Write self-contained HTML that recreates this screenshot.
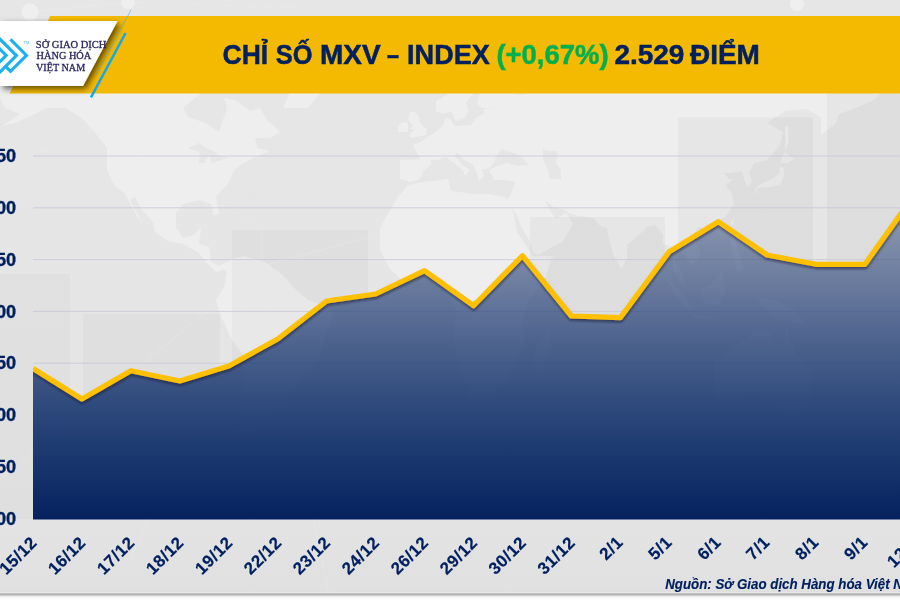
<!DOCTYPE html>
<html lang="vi">
<head>
<meta charset="utf-8">
<title>Chỉ số MXV – Index</title>
<style>
html,body{margin:0;padding:0;background:#e9e9e9;}
body{width:900px;height:600px;overflow:hidden;position:relative;font-family:"Liberation Sans",sans-serif;}
svg{position:absolute;left:0;top:0;display:block;}
.title{font-family:"Liberation Sans",sans-serif;font-weight:bold;font-size:28px;fill:#002060;stroke:#002060;stroke-width:0.5px;}
.green{fill:#00b050;stroke:#00b050;}
.yl{font-family:"Liberation Sans",sans-serif;font-weight:bold;font-size:18.2px;fill:#002060;stroke:#002060;stroke-width:0.3px;}
.xl{font-family:"Liberation Sans",sans-serif;font-weight:bold;font-size:17px;fill:#002060;letter-spacing:0.5px;stroke:#002060;stroke-width:0.18px;}
.logo{font-family:"Liberation Serif",serif;font-size:9.8px;fill:#2a2560;stroke:#2a2560;stroke-width:0.28px;}
.src{font-family:"Liberation Sans",sans-serif;font-weight:bold;font-style:italic;font-size:14.6px;fill:#002060;stroke:#002060;stroke-width:0.15px;}
</style>
</head>
<body>
<svg width="900" height="600" viewBox="0 0 900 600">
<defs>
<linearGradient id="ga" x1="0" y1="190" x2="0" y2="519" gradientUnits="userSpaceOnUse">
<stop offset="0" stop-color="rgb(56,79,125)" stop-opacity="0.45"/>
<stop offset="0.152" stop-color="rgb(43,68,119)" stop-opacity="0.55"/>
<stop offset="0.395" stop-color="rgb(40,67,120)" stop-opacity="0.75"/>
<stop offset="0.638" stop-color="rgb(33,62,116)" stop-opacity="0.92"/>
<stop offset="0.82" stop-color="rgb(25,55,110)" stop-opacity="1"/>
<stop offset="1" stop-color="rgb(5,33,95)" stop-opacity="1"/>
</linearGradient>
<linearGradient id="bgg" x1="0" y1="0" x2="0" y2="600" gradientUnits="userSpaceOnUse">
<stop offset="0" stop-color="#e6e6e6"/>
<stop offset="0.8" stop-color="#e5e5e5"/>
<stop offset="1" stop-color="#e0e0e0"/>
</linearGradient>
<linearGradient id="bot" x1="0" y1="591" x2="0" y2="600" gradientUnits="userSpaceOnUse">
<stop offset="0" stop-color="#dfdfdf"/>
<stop offset="0.06" stop-color="#dfdfdf"/>
<stop offset="0.15" stop-color="#ececec"/>
<stop offset="0.26" stop-color="#c8c8c8"/>
<stop offset="0.37" stop-color="#adadad"/>
<stop offset="0.48" stop-color="#c8c8c8"/>
<stop offset="0.61" stop-color="#ececec"/>
<stop offset="0.78" stop-color="#fcfcfc"/>
<stop offset="1" stop-color="#fefefe"/>
</linearGradient>
<clipPath id="above"><path d="M0,0 L920,0 L920,190 L913.9,195.5 L865.0,264.3 L816.0,264.3 L767.1,255.0 L718.2,221.7 L669.2,251.7 L620.3,317.7 L571.3,316.0 L522.4,255.7 L473.5,305.7 L424.5,270.7 L375.6,294.0 L326.6,301.0 L277.7,339.0 L228.8,366.0 L179.8,381.0 L130.9,370.7 L81.9,399.0 L33.0,368.5 L33,600 L0,600 Z"/></clipPath>
<clipPath id="plot"><rect x="33" y="100" width="880" height="430"/></clipPath>
<filter id="mb" x="0" y="0" width="100%" height="100%"><feGaussianBlur stdDeviation="0.6"/></filter>
<filter id="sh" x="-10%" y="-10%" width="130%" height="140%">
<feDropShadow dx="3" dy="2.8" stdDeviation="3.2" flood-color="#000" flood-opacity="0.62"/>
</filter>
<filter id="lsh" x="-5%" y="-5%" width="110%" height="115%">
<feDropShadow dx="0.3" dy="2.2" stdDeviation="1.2" flood-color="#0a1430" flood-opacity="0.55"/>
</filter>
</defs>
<rect x="0" y="0" width="900" height="600" fill="url(#bgg)"/>
<g filter="url(#mb)">
<g fill="#eeeeee"><polygon points="-5,89 10,76 40,73 66,76 97,76 130,80 155,80 181,70 206,76 214,86 199,95 183,108 188,117 206,123 219,132 222,123 227,108 224,98 237,101 250,111 260,108 267,120 280,132 270,138 255,138 257,148 270,151 255,157 244,163 234,170 229,182 216,197 219,213 214,216 211,204 199,200 183,204 176,213 176,228 183,238 194,235 201,228 199,244 209,247 211,262 219,266 224,269 216,272 206,262 199,253 183,244 168,241 155,232 153,222 142,210 135,197 130,200 142,222 137,216 125,194 114,185 107,170 107,148 97,135 84,120 66,108 46,108 35,114 15,123 2,126 20,114 5,108 -0,98"/><polygon points="283,108 308,108 321,92 359,80 372,61 359,39 308,36 257,46 237,52 270,61 283,76 290,92"/><polygon points="219,266 232,259 244,256 265,262 283,275 296,290 308,300 326,306 334,315 326,334 321,356 313,365 301,374 296,386 285,399 275,411 262,421 255,436 250,455 239,458 234,442 237,418 242,386 244,356 232,340 219,312 216,300 224,287 227,272"/><polygon points="408,185 423,182 448,179 451,191 474,194 487,194 505,197 512,207 517,232 533,256 553,256 545,278 528,303 522,324 525,343 512,368 505,383 489,399 471,402 466,386 456,356 454,331 456,309 446,290 446,281 433,275 413,278 403,281 390,269 380,250 380,228 390,210 398,197"/><polygon points="400,179 400,160 420,159 413,145 420,142 431,135 443,126 446,117 451,120 454,126 471,125 477,117 484,114 484,109 497,108 482,108 477,104 479,95 487,90 479,89 469,98 466,104 469,111 464,118 456,121 451,111 443,114 436,111 436,101 451,92 461,83 479,75 494,73 505,78 528,86 515,95 525,94 535,83 563,81 596,80 609,70 645,64 691,55 711,64 754,73 806,73 831,78 859,76 882,81 908,89 882,92 874,100 856,108 839,114 836,123 821,135 821,117 806,109 785,111 767,123 783,132 780,145 767,160 754,163 749,173 752,182 747,187 744,179 742,171 732,173 724,173 729,179 734,179 726,185 732,194 734,204 726,216 714,224 704,228 698,227 693,235 701,253 696,262 691,266 686,256 678,252 675,262 681,273 686,289 679,281 673,269 673,247 663,244 663,235 655,225 647,227 642,232 627,245 627,259 621,269 614,256 609,239 607,228 599,225 594,218 579,216 568,213 566,210 553,207 545,200 550,211 556,219 566,213 573,224 563,241 556,245 538,255 533,253 530,241 522,228 517,216 512,207 506,200 510,196 512,191 515,182 505,180 494,180 491,174 489,170 497,166 507,163 517,166 528,165 522,157 517,154 507,151 502,149 497,154 494,163 489,168 482,170 484,176 479,180 477,173 473,165 464,160 457,152 455,157 464,166 470,170 465,176 463,170 454,163 446,157 438,160 431,160 431,165 423,171 422,176 418,180 410,182"/><polygon points="410,138 426,135 427,129 420,123 418,115 415,112 410,112 408,120 413,125 410,129 415,129 410,134"/><polygon points="398,132 408,132 408,123 403,122 398,126"/><polygon points="754,196 758,188 770,187 780,185 784,176 784,168 780,166 779,174 772,179 762,183 756,188"/><polygon points="780,163 788,163 794,159 785,152 781,160"/><polygon points="785,151 789,142 788,126 785,126 785,138"/><polygon points="714,362 714,399 724,402 739,396 754,391 767,400 775,402 780,411 795,414 806,408 813,386 813,371 795,352 786,328 783,346 770,340 772,331 757,331 747,337 734,349"/><polygon points="665,276 673,283 688,300 693,312 683,306 673,290"/><polygon points="701,290 711,284 721,272 726,290 719,306 704,303"/><polygon points="691,314 714,317 714,320 693,317"/><polygon points="757,297 775,300 793,309 806,324 788,321 775,318 762,306"/><polygon points="729,238 734,238 739,253 744,269 737,272 732,253"/><polygon points="548,331 550,343 543,371 535,371 535,349"/><polygon points="730,224 734,216 733,225"/><polygon points="-67,89 -36,81 -10,89 -16,95 -36,101"/></g>
<g fill="#e6e6e6"><polygon points="543,149 548,151 558,151 556,163 561,170 561,179 550,179 548,170 543,160"/><polygon points="188,148 199,143 206,148 214,151 219,156 228,157 222,160 211,163 210,154 204,163 199,163 200,152"/></g>
</g>
<g fill="#000" fill-opacity="0.03" clip-path="url(#above)">
<rect x="-67" y="274" width="137" height="245" fill-opacity="0.02"/>
<rect x="83" y="314" width="137" height="205" fill-opacity="0.022"/>
<rect x="232" y="230" width="136" height="289" fill-opacity="0.025"/>
<rect x="380" y="300" width="137" height="219"/>
<rect x="530" y="217" width="135" height="302"/>
<rect x="678" y="117.5" width="135" height="401"/>
<rect x="827" y="90" width="135" height="429"/>
</g>
<g fill="#efefef"><circle cx="30" cy="12" r="8.5"/><circle cx="128" cy="2" r="7"/><circle cx="797" cy="4" r="7"/></g>
<g stroke="#eeeeee" stroke-opacity="0.45" stroke-width="0.7" fill="none"><path d="M30,12 L128,2 M30,12 L0,4 M128,2 L300,8 M30,12 L90,130 L0,170 M90,130 L262,228 L262,266 L395,230 M262,266 L130,560 M262,266 L330,600 M262,266 L0,480 M395,230 L400,190"/></g>
<!-- banner -->
<polygon points="50.3,15.9 900,15.9 900,93.5 9.5,93.5" fill="#f4ba02"/>
<polygon points="0,21 117.5,21 83,86 0,86" fill="#ffffff" filter="url(#sh)"/>
<line x1="125.6" y1="33" x2="91" y2="97.3" stroke="#0da9f5" stroke-width="2.5"/>
<line x1="131" y1="10" x2="96" y2="75" stroke="#3fa9dc" stroke-opacity="0.65" stroke-width="0.9"/>
<!-- logo mark -->
<g fill="none" stroke="#1cb0ee" stroke-width="3.1" stroke-linejoin="miter" stroke-miterlimit="10">
<polyline points="10.5,39.4 26.5,55.4 10.5,71.4 5.5,66.4"/>
<polyline points="-2,37.2 16.4,55.6 -2,74"/>
<polyline points="-2,47.2 6.2,55.4 -2,63.6"/>
</g>
<text x="23.6" y="43.6" style="font-family:'Liberation Sans',sans-serif;font-weight:bold;font-size:3.9px;fill:#7ccbf0;">TM</text>
<text class="logo" x="35.8" y="47.6" textLength="70.6" lengthAdjust="spacingAndGlyphs">SỞ GIAO DỊCH</text>
<text class="logo" x="36.6" y="59.1" textLength="54.6" lengthAdjust="spacingAndGlyphs">HÀNG HÓA</text>
<text class="logo" x="36" y="70.9" textLength="49.2" lengthAdjust="spacingAndGlyphs">VIỆT NAM</text>
<!-- title -->
<text class="title" x="222.6" y="63.6" textLength="45.6" lengthAdjust="spacingAndGlyphs">CHỈ</text>
<text class="title" x="275.8" y="63.6" textLength="36.8" lengthAdjust="spacingAndGlyphs">SỐ</text>
<text class="title" x="320" y="63.6" textLength="60.8" lengthAdjust="spacingAndGlyphs">MXV</text>
<text class="title" x="387" y="63.6" textLength="12" lengthAdjust="spacingAndGlyphs">–</text>
<text class="title" x="407.1" y="63.6" textLength="82.7" lengthAdjust="spacingAndGlyphs">INDEX</text>
<text class="title green" x="496.4" y="63.6" textLength="112.2" lengthAdjust="spacingAndGlyphs">(+0,67%)</text>
<text class="title" x="614.4" y="63.6" textLength="70" lengthAdjust="spacingAndGlyphs">2.529</text>
<text class="title" x="690" y="63.6" textLength="69.9" lengthAdjust="spacingAndGlyphs">ĐIỂM</text>
<!-- grid -->
<line x1="33" x2="900" y1="156.0" y2="156.0" stroke="#c4c8d8" stroke-width="0.8"/>
<line x1="33" x2="900" y1="207.8" y2="207.8" stroke="#c4c8d8" stroke-width="0.8"/>
<line x1="33" x2="900" y1="259.6" y2="259.6" stroke="#c4c8d8" stroke-width="0.8"/>
<line x1="33" x2="900" y1="311.4" y2="311.4" stroke="#c4c8d8" stroke-width="0.8"/>
<line x1="33" x2="900" y1="363.2" y2="363.2" stroke="#c4c8d8" stroke-width="0.8"/>
<line x1="33" x2="900" y1="415.0" y2="415.0" stroke="#c4c8d8" stroke-width="0.8"/>
<line x1="33" x2="900" y1="466.8" y2="466.8" stroke="#c4c8d8" stroke-width="0.8"/>
<line x1="33" x2="900" y1="518.6" y2="518.6" stroke="#c4c8d8" stroke-width="0.8"/>
<text x="16.1" y="162.1" text-anchor="end" class="yl">2.550</text>
<text x="16.1" y="213.9" text-anchor="end" class="yl">2.500</text>
<text x="16.1" y="265.7" text-anchor="end" class="yl">2.450</text>
<text x="16.1" y="317.5" text-anchor="end" class="yl">2.400</text>
<text x="16.1" y="369.3" text-anchor="end" class="yl">2.350</text>
<text x="16.1" y="421.1" text-anchor="end" class="yl">2.300</text>
<text x="16.1" y="472.9" text-anchor="end" class="yl">2.250</text>
<text x="16.1" y="524.7" text-anchor="end" class="yl">2.200</text>
<!-- area -->
<path d="M33.0,368.5 L81.9,399.0 L130.9,370.7 L179.8,381.0 L228.8,366.0 L277.7,339.0 L326.6,301.0 L375.6,294.0 L424.5,270.7 L473.5,305.7 L522.4,255.7 L571.3,316.0 L620.3,317.7 L669.2,251.7 L718.2,221.7 L767.1,255.0 L816.0,264.3 L865.0,264.3 L913.9,195.5 L913.9,519.5 L33,519.5 Z" fill="url(#ga)"/>
<g clip-path="url(#plot)"><path d="M33.0,368.5 L81.9,399.0 L130.9,370.7 L179.8,381.0 L228.8,366.0 L277.7,339.0 L326.6,301.0 L375.6,294.0 L424.5,270.7 L473.5,305.7 L522.4,255.7 L571.3,316.0 L620.3,317.7 L669.2,251.7 L718.2,221.7 L767.1,255.0 L816.0,264.3 L865.0,264.3 L913.9,195.5" fill="none" stroke="#ffc000" stroke-width="5.2" stroke-linejoin="round" filter="url(#lsh)"/></g>
<text transform="translate(38.0,543.7) rotate(-45)" text-anchor="end" class="xl">15/12</text>
<text transform="translate(86.9,543.7) rotate(-45)" text-anchor="end" class="xl">16/12</text>
<text transform="translate(135.9,543.7) rotate(-45)" text-anchor="end" class="xl">17/12</text>
<text transform="translate(184.8,543.7) rotate(-45)" text-anchor="end" class="xl">18/12</text>
<text transform="translate(233.8,543.7) rotate(-45)" text-anchor="end" class="xl">19/12</text>
<text transform="translate(282.7,543.7) rotate(-45)" text-anchor="end" class="xl">22/12</text>
<text transform="translate(331.6,543.7) rotate(-45)" text-anchor="end" class="xl">23/12</text>
<text transform="translate(380.6,543.7) rotate(-45)" text-anchor="end" class="xl">24/12</text>
<text transform="translate(429.5,543.7) rotate(-45)" text-anchor="end" class="xl">26/12</text>
<text transform="translate(478.5,543.7) rotate(-45)" text-anchor="end" class="xl">29/12</text>
<text transform="translate(527.4,543.7) rotate(-45)" text-anchor="end" class="xl">30/12</text>
<text transform="translate(576.3,543.7) rotate(-45)" text-anchor="end" class="xl">31/12</text>
<text transform="translate(624.1,543.2) rotate(-45)" text-anchor="end" class="xl">2/1</text>
<text transform="translate(673.0,543.2) rotate(-45)" text-anchor="end" class="xl">5/1</text>
<text transform="translate(722.0,543.2) rotate(-45)" text-anchor="end" class="xl">6/1</text>
<text transform="translate(770.9,543.2) rotate(-45)" text-anchor="end" class="xl">7/1</text>
<text transform="translate(819.8,543.2) rotate(-45)" text-anchor="end" class="xl">8/1</text>
<text transform="translate(868.8,543.2) rotate(-45)" text-anchor="end" class="xl">9/1</text>
<text transform="translate(918.9,543.7) rotate(-45)" text-anchor="end" class="xl">12/1</text>
<rect x="0" y="591" width="900" height="9" fill="url(#bot)"/>
<text class="src" x="665.2" y="589" textLength="257" lengthAdjust="spacingAndGlyphs">Nguồn: Sở Giao dịch Hàng hóa Việt Nam</text>
</svg>
</body>
</html>
